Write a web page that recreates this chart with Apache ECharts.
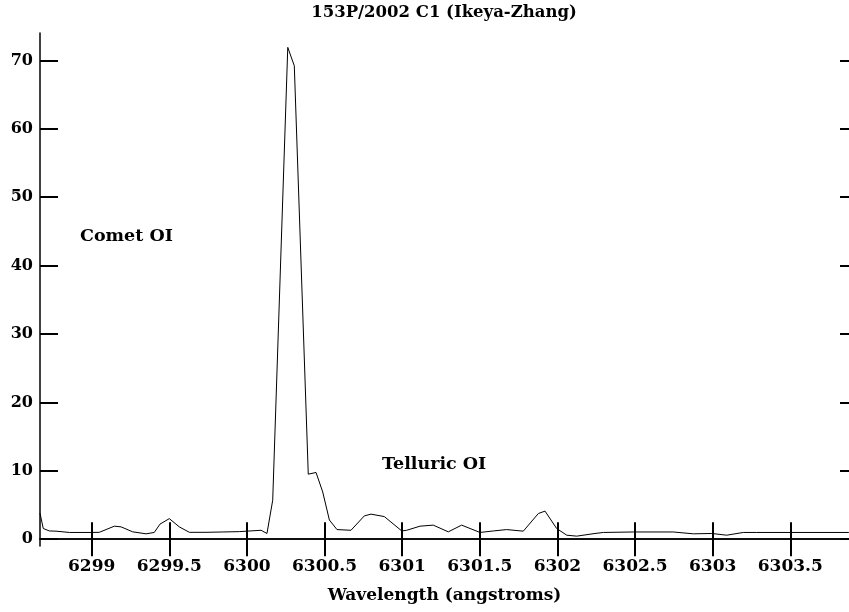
<!DOCTYPE html>
<html>
<head>
<meta charset="utf-8">
<script src="https://cdn.jsdelivr.net/npm/echarts@6/dist/echarts.min.js"></script>
<style>html,body{margin:0;padding:0;background:#fff}#c{width:849px;height:612px}</style>
</head>
<body>
<div id="c"></div>
<script>
const wavelengths = [6298.667,6298.688,6298.727,6298.770,6298.856,6298.995,6299.049,6299.146,6299.189,6299.264,6299.350,6299.403,6299.440,6299.500,6299.564,6299.629,6299.736,6299.844,6299.951,6300.091,6300.129,6300.166,6300.263,6300.305,6300.395,6300.445,6300.488,6300.531,6300.580,6300.670,6300.756,6300.799,6300.885,6300.960,6300.997,6301.029,6301.115,6301.200,6301.297,6301.383,6301.501,6301.587,6301.673,6301.780,6301.877,6301.920,6301.995,6302.060,6302.124,6302.242,6302.296,6302.489,6302.746,6302.875,6302.994,6303.090,6303.197,6303.284,6303.877];
const intensity = [3.8,1.56,1.2,1.17,0.98,0.98,1.0,1.9,1.8,1.07,0.78,0.98,2.2,3.0,1.8,1.0,1.0,1.05,1.1,1.3,0.83,5.7,71.9,69.2,9.5,9.75,6.9,2.8,1.4,1.3,3.4,3.66,3.3,1.9,1.2,1.3,1.9,2.05,1.07,2.05,0.98,1.2,1.4,1.17,3.75,4.1,1.56,0.58,0.44,0.83,0.98,1.05,1.05,0.78,0.83,0.58,0.98,0.98,0.98];
const xTicks = [6299,6299.5,6300,6300.5,6301,6301.5,6302,6302.5,6303,6303.5];
const yTicks = [0,10,20,30,40,50,60,70];
const titleText = '153P/2002 C1 (Ikeya-Zhang)';
const xName = 'Wavelength (angstroms)';
const notes = ['Comet OI','Telluric OI'];

const FONT = 'DejaVu Serif';
const chart = echarts.init(document.getElementById('c'), null, {renderer:'canvas'});
const frameLine = {show:true, lineStyle:{color:'#000', width:1.5}};
const tickStyle = {show:true, inside:true, length:17, lineStyle:{color:'#000', width:2}};
const xMin = 6298.667, xMax = 6303.878, yMin = -1, yMax = 74;
chart.setOption({
  animation:false,
  backgroundColor:'#fff',
  grid:{left:40, right:0, top:33, bottom:66},
  xAxis:[{
    type:'value', min:xMin, max:xMax, position:'bottom',
    axisLine:frameLine,
    axisTick:Object.assign({customValues:xTicks}, tickStyle),
    axisLabel:{customValues:xTicks, color:'#000', fontFamily:FONT, fontWeight:'bold', fontSize:17, margin:12,
      formatter:v=>String(v)},
    splitLine:{show:false},
    name:xName, nameLocation:'middle', nameGap:41,
    nameTextStyle:{color:'#000', fontFamily:FONT, fontWeight:'bold', fontSize:17}
  },{
    type:'value', min:xMin, max:xMax, position:'top',
    axisLine:frameLine,
    axisTick:Object.assign({customValues:xTicks}, tickStyle),
    axisLabel:{show:false}, splitLine:{show:false}
  }],
  yAxis:[{
    type:'value', min:yMin, max:yMax, position:'left',
    axisLine:frameLine,
    axisTick:Object.assign({customValues:yTicks}, tickStyle, {length:18}),
    axisLabel:{customValues:yTicks, color:'#000', fontFamily:FONT, fontWeight:'bold', fontSize:16, margin:7},
    splitLine:{show:false}
  },{
    type:'value', min:yMin, max:yMax, position:'right',
    axisLine:{show:false},
    axisTick:Object.assign({customValues:yTicks}, tickStyle, {length:9}),
    axisLabel:{show:false}, splitLine:{show:false}
  }],
  series:[{
    type:'line', xAxisIndex:0, yAxisIndex:0,
    data:wavelengths.map((w,i)=>[w,intensity[i]]),
    showSymbol:false, symbol:'none',
    lineStyle:{color:'#000', width:1},
    silent:true
  }],
  graphic:[
    {type:'text', x:444, y:13, style:{text:titleText, align:'center', verticalAlign:'middle', font:'bold 16.5px "'+FONT+'"', fill:'#000'}},
    {type:'text', x:80, y:236, style:{text:notes[0], align:'left', verticalAlign:'middle', font:'bold 17.5px "'+FONT+'"', fill:'#000'}},
    {type:'text', x:382, y:464, style:{text:notes[1], align:'left', verticalAlign:'middle', font:'bold 17.5px "'+FONT+'"', fill:'#000'}}
  ]
});
</script>
</body>
</html>
